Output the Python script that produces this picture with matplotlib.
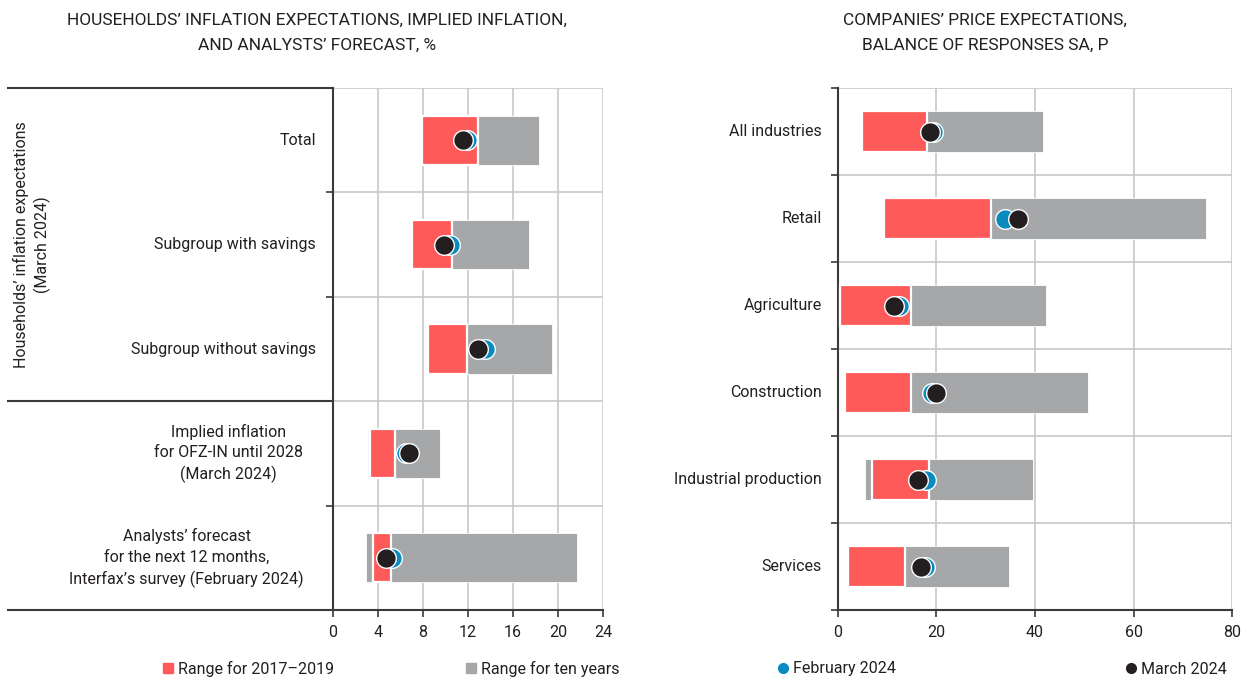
import matplotlib
matplotlib.use('Agg')
import matplotlib.pyplot as plt
import matplotlib.transforms as mtransforms
from matplotlib.lines import Line2D
import numpy as np

plt.rcParams['font.family'] = ['Roboto', 'DejaVu Sans']

# ---------------- data ----------------
left_cats = ['Total', 'Subgroup with savings', 'Subgroup without savings',
             'Implied inflation\nfor OFZ-IN until 2028\n(March 2024)',
             'Analysts\u2019 forecast\nfor the next 12 months,\nInterfax\u2019s survey (February 2024)']
left_ten_min = [7.9, 7.0, 8.4, 3.1, 2.9]
left_ten_max = [18.3, 17.4, 19.5, 9.5, 21.7]
left_r_min = [7.9, 7.0, 8.4, 3.3, 3.55]
left_r_max = [12.9, 10.55, 11.9, 5.5, 5.15]
left_feb = [11.9, 10.4, 13.5, 6.45, 5.2]
left_mar = [11.55, 9.9, 12.9, 6.75, 4.7]

right_cats = ['All industries', 'Retail', 'Agriculture', 'Construction',
              'Industrial production', 'Services']
right_ten_min = [4.9, 9.3, 0.5, 1.4, 5.5, 2.0]
right_ten_max = [41.7, 74.7, 42.2, 50.7, 39.6, 34.8]
right_r_min = [4.9, 9.3, 0.5, 1.4, 6.9, 2.0]
right_r_max = [18.0, 31.0, 14.8, 14.8, 18.5, 13.7]
right_feb = [19.3, 34.0, 12.4, 19.1, 17.8, 17.6]
right_mar = [18.7, 36.6, 11.3, 19.9, 16.3, 16.8]

left_ticks = [0, 4, 8, 12, 16, 20, 24]
right_ticks = [0, 20, 40, 60, 80]

RED = '#FF5A5A'
GREY = '#A6A7A9'
BLUE = '#0A8BBF'
BLACK = '#231F20'
GRID = '#C8C8C8'
AXC = '#3A3A3A'
TXT = '#231F20'

W, H = 1248, 684
fig = plt.figure(figsize=(W / 100, H / 100), dpi=100)


def fx(px):
    return px / W


def fy(py):
    return 1 - py / H


def draw(ax, cats, tmin, tmax, rmin, rmax, feb, mar, ticks, label_pads):
    n = len(cats)
    y = np.arange(n)
    ax.set_axisbelow(True)
    ax.barh(y, np.subtract(tmax, tmin), left=tmin, height=0.47, color=GREY,
            edgecolor='white', linewidth=0.6, zorder=2)
    ax.barh(y, np.subtract(rmax, rmin), left=rmin, height=0.47, color=RED,
            edgecolor='white', linewidth=1.6, zorder=3)
    ax.scatter(feb, y, s=200, color=BLUE, edgecolor='white', linewidth=1.0, zorder=4)
    ax.scatter(mar, y, s=200, color=BLACK, edgecolor='white', linewidth=1.0, zorder=5)
    ax.set_xlim(ticks[0], ticks[-1])
    ax.set_ylim(n - 0.5, -0.5)
    ax.set_xticks(ticks)
    ax.set_xticklabels([str(t) for t in ticks], fontsize=11.5, color=TXT)
    ax.set_yticks(np.arange(n + 1) - 0.5)
    ax.set_yticklabels([''] * (n + 1))
    ax.tick_params(axis='y', length=5, width=1.2, color=AXC, direction='out')
    ax.tick_params(axis='x', length=5, width=1.2, color=AXC, direction='out', pad=6)
    ax.grid(axis='x', color=GRID, linewidth=1.2, zorder=0)
    for b in np.arange(n + 1) - 0.5:
        ax.axhline(b, color=GRID, linewidth=1.2, zorder=0)
    for s in ['top', 'right']:
        ax.spines[s].set_visible(False)
    for s in ['left', 'bottom']:
        ax.spines[s].set_color(AXC)
        ax.spines[s].set_linewidth(1.5)
    for i, c in enumerate(cats):
        ax.annotate(c, xy=(0, i), xycoords=('axes fraction', 'data'),
                    xytext=(-label_pads[i], 0), textcoords='offset pixels',
                    ha='right', va='center', multialignment='center',
                    fontsize=11.5, color=TXT, linespacing=1.45)


ax1 = fig.add_axes([fx(333), fy(610), fx(603 - 333), fy(88) - fy(610)])
draw(ax1, left_cats, left_ten_min, left_ten_max, left_r_min, left_r_max,
     left_feb, left_mar, left_ticks, [17, 17, 17, 30, 29])

ax2 = fig.add_axes([fx(838), fy(610), fx(1232 - 838), fy(88) - fy(610)])
draw(ax2, right_cats, right_ten_min, right_ten_max, right_r_min, right_r_max,
     right_feb, right_mar, right_ticks, [16] * 6)

# table-like lines on the left label area
x0 = (7 - 333) / (603 - 333)
trans = mtransforms.blended_transform_factory(ax1.transAxes, ax1.transData)
for yb in [-0.5, 2.5, 4.5]:
    ax1.plot([x0, 0], [yb, yb], transform=trans, color=AXC, linewidth=1.5,
             clip_on=False, zorder=6, solid_capstyle='butt')

fig.text(fx(32), fy(245), 'Households\u2019 inflation expectations\n(March 2024)',
         rotation=90, ha='center', va='center', multialignment='center',
         fontsize=11.5, color=TXT, linespacing=1.3)

# titles
TFS = 12.5
fig.text(fx(317), fy(20), 'HOUSEHOLDS\u2019 INFLATION EXPECTATIONS, IMPLIED INFLATION,',
         ha='center', va='center', fontsize=TFS, color=TXT)
fig.text(fx(317), fy(45), 'AND ANALYSTS\u2019 FORECAST, %',
         ha='center', va='center', fontsize=TFS, color=TXT)
fig.text(fx(985), fy(20), 'COMPANIES\u2019 PRICE EXPECTATIONS,',
         ha='center', va='center', fontsize=TFS, color=TXT)
fig.text(fx(985), fy(45), 'BALANCE OF RESPONSES SA, P',
         ha='center', va='center', fontsize=TFS, color=TXT)

# legend
items = [
    (162, Line2D([], [], marker='s', linestyle='none', color=RED, markersize=7), 'Range for 2017\u20132019'),
    (465, Line2D([], [], marker='s', linestyle='none', color=GREY, markersize=7), 'Range for ten years'),
    (777, Line2D([], [], marker='o', linestyle='none', color=BLUE, markersize=7), 'February 2024'),
    (1125, Line2D([], [], marker='o', linestyle='none', color=BLACK, markersize=7), 'March 2024'),
]
for xp, h, lab in items:
    fig.legend([h], [lab], loc='center left', bbox_to_anchor=(fx(xp), fy(669)),
               frameon=False, borderpad=0, borderaxespad=0, handlelength=0.7,
               handletextpad=0.3, fontsize=11.5, labelcolor=TXT)

fig.savefig('out.png', dpi=100)
